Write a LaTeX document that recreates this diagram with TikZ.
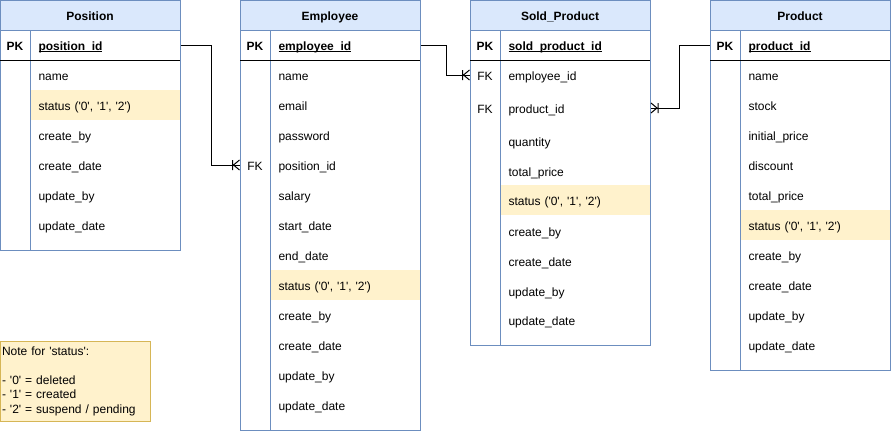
\documentclass[tikz,border=0pt]{standalone}
\usepackage{fontspec}
\setmainfont{Liberation Sans}
\usetikzlibrary{positioning}
\definecolor{hdrblue}{HTML}{DAE8FC}
\definecolor{edgeblue}{HTML}{6C8EBF}
\definecolor{noteyel}{HTML}{FFF2CC}
\definecolor{noteedge}{HTML}{D6B656}
\newcommand\erfont{\fontsize{12}{14.5}\selectfont}
\newcommand\sq{\textquotesingle}
\newlength\pklen
\newcommand\pkfield[1]{\settowidth\pklen{#1}\rlap{#1}\rule[-2pt]{\pklen}{0.8pt}}
\tikzset{
  hdr/.style={draw=edgeblue,fill=hdrblue,minimum width=180pt,minimum height=30pt,inner sep=0pt,text height=10pt,text depth=0pt,font=\erfont\bfseries},
  fld/.style={anchor=west,text width=134pt,inner xsep=8pt,inner ysep=0pt,minimum height=30pt,text height=10pt,text depth=0pt},
  hl/.style={fld,fill=noteyel},
  key/.style={minimum width=30pt,inner sep=0pt,text height=10pt,text depth=0pt},
  note/.style={draw=noteedge,fill=noteyel,text width=146pt,inner sep=2pt,minimum height=80pt,align=left},
  crowfoot/.pic={\draw (-7,-5) -- (-7,5) (-6,0) -- (0,5) (-6,0) -- (0,-5);}
}
\begin{document}
\begin{tikzpicture}[x=1pt,y=-1pt,line width=1pt,font=\erfont]
  \useasboundingbox (0,0) rectangle (891,431);
  % Position
  \node[hdr] (poshead) at (90,15) {Position};
  \node[key,font=\erfont\bfseries] (poskey) at (15,45) {PK};
  \node[fld,font=\erfont\bfseries] (pospk) at (30,45) {\pkfield{position\_id}};
  \node[hl] (posstat) at (30,105) {status (\sq0\sq, \sq1\sq, \sq2\sq)};
  \foreach \f/\y [count=\i] in {name/75,create\_by/135,create\_date/165,update\_by/195,update\_date/225}
    \node[fld] (pos\i) at (30,\y) {\f};
  \draw[edgeblue] (0,0) rectangle (180,250);
  \draw[edgeblue] (30,30) -- (30,250);
  \draw (0,60) -- (180,60);
  % Employee
  \node[hdr] (emphead) at (330,15) {Employee};
  \node[key,font=\erfont\bfseries] (empkey) at (255,45) {PK};
  \node[fld,font=\erfont\bfseries] (emppk) at (270,45) {\pkfield{employee\_id}};
  \node[key] (empfk) at (255,165) {FK};
  \node[hl] (empstat) at (270,285) {status (\sq0\sq, \sq1\sq, \sq2\sq)};
  \foreach \f/\y [count=\i] in {name/75,email/105,password/135,position\_id/165,salary/195,start\_date/225,end\_date/255,create\_by/315,create\_date/345,update\_by/375,update\_date/405}
    \node[fld] (emp\i) at (270,\y) {\f};
  \draw[edgeblue] (240,0) rectangle (420,430);
  \draw[edgeblue] (270,30) -- (270,430);
  \draw (240,60) -- (420,60);
  % Sold_Product
  \node[hdr] (soldhead) at (560,15) {Sold\_Product};
  \node[key,font=\erfont\bfseries] (soldkey) at (485,45) {PK};
  \node[fld,font=\erfont\bfseries] (soldpk) at (500,45) {\pkfield{sold\_product\_id}};
  \node[key] (soldfkemp) at (485,75) {FK};
  \node[key] (soldfkprod) at (485,108) {FK};
  \node[fld] (soldprod) at (500,108) {product\_id};
  \node[hl] (soldstat) at (500,200) {status (\sq0\sq, \sq1\sq, \sq2\sq)};
  \foreach \f/\y [count=\i] in {employee\_id/75,quantity/141,total\_price/171,create\_by/231,create\_date/261,update\_by/291,update\_date/320}
    \node[fld] (sold\i) at (500,\y) {\f};
  \draw[edgeblue] (470,0) rectangle (650,345);
  \draw[edgeblue] (500,30) -- (500,345);
  \draw (470,60) -- (650,60);
  % Product
  \node[hdr] (prodhead) at (800,15) {Product};
  \node[key,font=\erfont\bfseries] (prodkey) at (725,45) {PK};
  \node[fld,font=\erfont\bfseries] (prodpk) at (740,45) {\pkfield{product\_id}};
  \node[hl] (prodstat) at (740,225) {status (\sq0\sq, \sq1\sq, \sq2\sq)};
  \foreach \f/\y [count=\i] in {name/75,stock/105,initial\_price/135,discount/165,total\_price/195,create\_by/255,create\_date/285,update\_by/315,update\_date/345}
    \node[fld] (prod\i) at (740,\y) {\f};
  \draw[edgeblue] (710,0) rectangle (890,370);
  \draw[edgeblue] (740,30) -- (740,370);
  \draw (710,60) -- (890,60);
  % note
  \node[note] (statnote) at (75,381) {Note for \sq status\sq:\\[14.5pt]- \sq0\sq{} = deleted\\- \sq1\sq{} = created\\- \sq2\sq{} = suspend / pending};
  % relations
  \draw (pospk.east) -- ++(30,0) |- (empfk.west);
  \pic at (empfk.west) {crowfoot};
  \draw (emppk.east) -- ++(25,0) |- (soldfkemp.west);
  \pic at (soldfkemp.west) {crowfoot};
  \draw (prodkey.west) -- ++(-30,0) |- (soldprod.east);
  \pic[xscale=-1] at (soldprod.east) {crowfoot};
\end{tikzpicture}
\end{document}
